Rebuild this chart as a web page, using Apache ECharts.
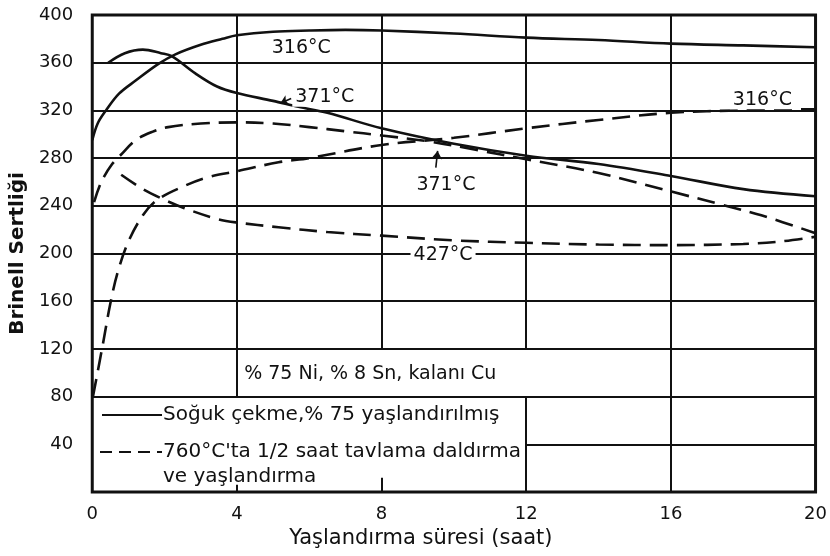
<!DOCTYPE html>
<html>
<head>
<meta charset="utf-8">
<script src="https://cdn.jsdelivr.net/npm/echarts@6/dist/echarts.min.js"></script>
<style>
  html, body { margin: 0; padding: 0; background: #fff; }
  #main { width: 830px; height: 556px; }
</style>
</head>
<body>
<div id="main"></div>
<script>
// eksen değerleri
var xTicks = [0, 4, 8, 12, 16, 20];
var yTicks = [40, 80, 120, 160, 200, 240, 280, 320, 360, 400];

// Soğuk çekme, %75 yaşlandırılmış (düz çizgi)
var sc316X = [0, 0.15, 0.38, 0.74, 1.2, 1.83, 2.3, 3, 3.6, 4, 5, 6, 7, 8, 10, 12, 14, 16, 18, 20];
var sc316Y = [295, 309, 320, 334, 345, 359, 367, 375, 380, 383, 386, 387, 387.5, 387, 384.5, 381, 379, 376, 374.5, 373];
var sc371X = [0.44, 0.9, 1.4, 1.9, 2.2, 2.85, 3.45, 4, 5, 5.7, 6.5, 8, 10, 12, 14, 16, 18, 20];
var sc371Y = [360, 368, 371, 368, 365.5, 351, 340, 334.5, 328, 323, 318, 305, 292, 282, 275, 265, 254, 248];

// 760°C'ta 1/2 saat tavlama (kesikli çizgi)
var an316X = [0.02, 0.3, 0.5, 0.7, 1.0, 1.4, 1.8, 2.5, 3.2, 4, 5.15, 6, 8, 10, 12, 14, 16, 18, 20];
var an316Y = [80, 125, 158, 184, 210, 232, 245, 256, 264, 269, 276.5, 280, 291, 297, 305, 312, 318, 320, 321];
var an371X = [0.05, 0.25, 0.55, 0.8, 1.2, 1.66, 2.1, 3, 4, 5, 6, 7, 8, 9.3, 10.6, 12, 14, 16, 17.4, 18.5, 20];
var an371Y = [243, 260, 275, 283, 295, 302, 306, 309, 310, 309, 306, 302.5, 299, 294, 287, 279, 267.5, 252, 241, 232, 217];
var an427X = [0.8, 1.4, 2.0, 2.55, 3.45, 4, 5.15, 6.5, 8, 10, 12, 14, 16, 18, 19, 20];
var an427Y = [266, 254, 245, 238, 229, 226, 222, 218, 215, 211, 209, 207.5, 207, 208, 210, 214];

// eğri etiketleri
var noteX = [5.78, 6.43, 9.78, 9.7, 18.53];
var noteY = [372, 331, 257, 199, 329];
var noteText = ['316°C', '371°C', '371°C', '427°C', '316°C'];

var alloyText = '% 75 Ni, % 8 Sn, kalanı Cu';
var legendSolid = 'Soğuk çekme,% 75 yaşlandırılmış';
var legendDash = ['760°C\'ta 1/2 saat tavlama daldırma', 've yaşlandırma'];

var FONT = '"DejaVu Sans", sans-serif';
var INK = '#111';

function pts(xs, ys) {
  return xs.map(function (x, i) { return [x, ys[i]]; });
}

// ızgara çizgileri (lejant kutusunda kesik)
function gridSegments() {
  var segs = [];
  yTicks.forEach(function (v) {
    if (v === 400) return;
    segs.push([{ coord: [v < 80 ? 12 : 0, v] }, { coord: [20, v] }]);
  });
  xTicks.forEach(function (x) {
    if (x === 0 || x === 20) return;
    if (x === 4) {
      segs.push([{ coord: [x, 80] }, { coord: [x, 400] }]);
      segs.push([{ coord: [x, 0] }, { coord: [x, 6] }]);
    } else if (x === 8) {
      segs.push([{ coord: [x, 120] }, { coord: [x, 400] }]);
      segs.push([{ coord: [x, 0] }, { coord: [x, 12] }]);
    } else if (x === 12) {
      segs.push([{ coord: [x, 0] }, { coord: [x, 80] }]);
      segs.push([{ coord: [x, 120] }, { coord: [x, 400] }]);
    } else {
      segs.push([{ coord: [x, 0] }, { coord: [x, 400] }]);
    }
  });
  return segs;
}

function curve(name, xs, ys, dashed) {
  return {
    name: name,
    type: 'line',
    data: pts(xs, ys),
    symbol: 'none',
    smooth: 0.35,
    silent: true,
    z: 3,
    lineStyle: { color: INK, width: 2.6, type: dashed ? [18, 9] : 'solid' }
  };
}

var chart = echarts.init(document.getElementById('main'));

var option = {
  animation: false,
  backgroundColor: '#fff',
  grid: { left: 91, right: 5, top: 15, bottom: 64, show: true, borderColor: INK, borderWidth: 3 },
  xAxis: {
    type: 'value', min: 0, max: 20, interval: 4,
    axisLine: { show: false }, axisTick: { show: false }, splitLine: { show: false },
    axisLabel: { color: INK, fontSize: 18, fontFamily: FONT, margin: 13 },
    name: 'Yaşlandırma süresi (saat)', nameLocation: 'middle', nameGap: 36,
    nameTextStyle: { color: INK, fontSize: 21, fontFamily: FONT, padding: [0, 66, 0, 0] }
  },
  yAxis: {
    type: 'value', min: 0, max: 400, interval: 40,
    axisLine: { show: false }, axisTick: { show: false }, splitLine: { show: false },
    axisLabel: {
      color: INK, fontSize: 18, fontFamily: FONT, margin: 19,
      formatter: function (v) { return v === 0 ? '' : v; }
    },
    name: 'Brinell Sertliği', nameLocation: 'middle', nameGap: 57, nameRotate: 90,
    nameTextStyle: { color: INK, fontSize: 20, fontWeight: 'bold', fontFamily: FONT }
  },
  graphic: [
    { type: 'line', shape: { x1: 102, y1: 415, x2: 162, y2: 415 }, style: { stroke: INK, lineWidth: 2 } },
    { type: 'text', x: 163, y: 415, style: { text: legendSolid, font: '20px ' + FONT, fill: INK, verticalAlign: 'middle' } },
    { type: 'line', shape: { x1: 100, y1: 452, x2: 162, y2: 452 }, style: { stroke: INK, lineWidth: 2, lineDash: [12, 7] } },
    { type: 'text', x: 163, y: 452, style: { text: legendDash[0], font: '20px ' + FONT, fill: INK, verticalAlign: 'middle' } },
    { type: 'text', x: 163, y: 477, style: { text: legendDash[1], font: '20px ' + FONT, fill: INK, verticalAlign: 'middle' } }
  ],
  series: [
    {
      name: 'grid',
      type: 'line',
      data: [],
      silent: true,
      z: 1,
      markLine: {
        silent: true,
        symbol: 'none',
        label: { show: false },
        lineStyle: { color: INK, width: 2, type: 'solid' },
        data: gridSegments()
      }
    },
    curve('sc316', sc316X, sc316Y, false),
    curve('sc371', sc371X, sc371Y, false),
    curve('an316', an316X, an316Y, true),
    curve('an371', an371X, an371Y, true),
    curve('an427', an427X, an427Y, true),
    {
      name: 'notes',
      type: 'scatter',
      symbolSize: 0,
      silent: true,
      z: 5,
      itemStyle: { opacity: 1 },
      data: pts(noteX, noteY),
      label: {
        show: true,
        position: 'inside',
        color: INK,
        textBorderWidth: 0,
        fontSize: 19,
        fontFamily: FONT,
        formatter: function (p) { return noteText[p.dataIndex]; },
        backgroundColor: '#fff',
        padding: [0, 3]
      },
      markLine: {
        silent: true,
        symbol: ['none', 'arrow'],
        symbolSize: 8,
        label: { show: false },
        lineStyle: { color: INK, width: 1.6, type: 'solid' },
        data: [
          [{ coord: [5.5, 330] }, { coord: [5.2, 326] }],
          [{ coord: [9.5, 272] }, { coord: [9.55, 286] }]
        ]
      }
    },
    {
      name: 'alloy',
      type: 'scatter',
      symbolSize: 0,
      silent: true,
      z: 5,
      itemStyle: { opacity: 1 },
      data: [[4.2, 98.5]],
      label: {
        show: true,
        position: 'inside',
        align: 'left',
        color: INK,
        textBorderWidth: 0,
        fontSize: 19,
        fontFamily: FONT,
        formatter: alloyText
      }
    }
  ]
};

chart.setOption(option);
</script>
</body>
</html>
